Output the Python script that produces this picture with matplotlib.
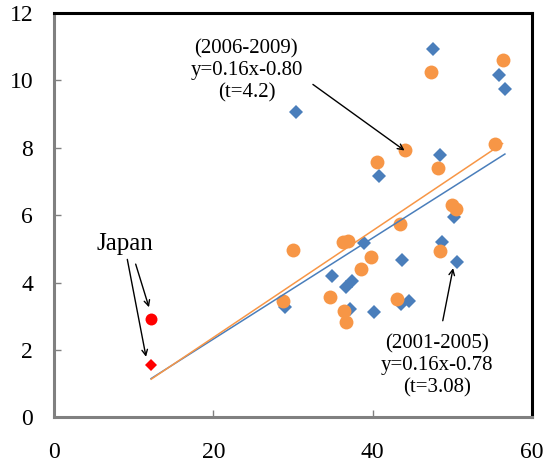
import numpy as np
import matplotlib.pyplot as plt

# 2001-2005 (blue diamonds)
x_0105 = [47.6, 55.8, 56.6, 30.4, 48.5, 40.8, 50.2, 38.9, 48.7, 43.7,
          50.6, 34.9, 37.4, 36.7, 29.0, 37.15, 40.2, 43.6, 44.5]
y_0105 = [10.93, 10.16, 9.74, 9.07, 7.79, 7.16, 5.96, 5.17, 5.20, 4.67,
          4.60, 4.21, 4.06, 3.88, 3.27, 3.22, 3.12, 3.37, 3.47]

# 2006-2009 (orange circles)
x_0609 = [56.3, 47.3, 55.4, 44.05, 40.5, 48.2, 49.9, 50.4, 43.4, 36.9,
          36.3, 29.96, 48.45, 39.75, 38.5, 34.6, 43.1, 28.7, 36.4, 36.6]
y_0609 = [10.6, 10.24, 8.11, 7.94, 7.59, 7.39, 6.30, 6.19, 5.73, 5.24,
          5.21, 4.97, 4.95, 4.75, 4.40, 3.57, 3.51, 3.46, 3.17, 2.84]

# Japan
jp_x_0105, jp_y_0105 = 12.18, 1.57
jp_x_0609, jp_y_0609 = 12.2, 2.93

blue = '#4A7EBB'
orange = '#F79646'

plt.rcParams['font.family'] = 'Liberation Serif'

fig = plt.figure(figsize=(5.49, 4.63), dpi=100)
ax = fig.add_axes([0.0984, 0.0983, 0.8706, 0.8737])

ax.plot(x_0105, y_0105, 'D', color=blue, ms=7.4, mew=0, zorder=3)
ax.plot(x_0609, y_0609, 'o', color=orange, ms=10, mew=0, zorder=4)
ax.plot(jp_x_0105, jp_y_0105, 'D', color='red', ms=5.8, mew=0, zorder=4)
ax.plot(jp_x_0609, jp_y_0609, 'o', color='red', ms=8.6, mew=0, zorder=4)

# linear trendlines (Japan included)
for xs, ys, jx, jy, c in [(x_0105, y_0105, jp_x_0105, jp_y_0105, blue),
                          (x_0609, y_0609, jp_x_0609, jp_y_0609, orange)]:
    xa = np.append(xs, jx)
    ya = np.append(ys, jy)
    k, b = np.polyfit(xa, ya, 1)
    xx = np.array([xa.min(), xa.max()])
    ax.plot(xx, k * xx + b, color=c, lw=1.1, zorder=5)

arr = dict(arrowstyle='->', color='black', lw=1.0, shrinkA=0, shrinkB=0)

ax.text(24.15, 10.28, '(2006-2009)\ny=0.16x-0.80\n(t=4.2)', fontsize=15,
        ha='center', va='center', multialignment='center')
ax.annotate('', xy=(44.0, 7.92), xytext=(32.5, 9.88), arrowprops=arr, zorder=6)

ax.text(48.1, 1.54, '(2001-2005)\ny=0.16x-0.78\n(t=3.08)', fontsize=15,
        ha='center', va='center', multialignment='center')
ax.annotate('', xy=(50.1, 4.43), xytext=(48.8, 2.87), arrowprops=arr, zorder=6)

ax.text(8.9, 5.15, 'Japan', fontsize=18, ha='center', va='center')
ax.annotate('', xy=(11.55, 1.80), xytext=(9.2, 4.69), arrowprops=arr, zorder=6)
ax.annotate('', xy=(11.92, 3.27), xytext=(10.25, 4.55), arrowprops=arr, zorder=6)

ax.set_xlim(0, 60)
ax.set_ylim(0, 12)
ax.set_xticks([0, 20, 40, 60])
ax.set_yticks([0, 2, 4, 6, 8, 10, 12])

for side in ['top', 'right']:
    ax.spines[side].set_color('black')
    ax.spines[side].set_linewidth(2.2)
for side in ['left', 'bottom']:
    ax.spines[side].set_color('#808080')
    ax.spines[side].set_linewidth(2.2)

ax.tick_params(axis='both', direction='in', length=5, width=1, color='#808080',
               labelsize=17)
ax.tick_params(axis='y', pad=15)
ax.tick_params(axis='x', pad=18)

fig.savefig('out.png', dpi=100)
